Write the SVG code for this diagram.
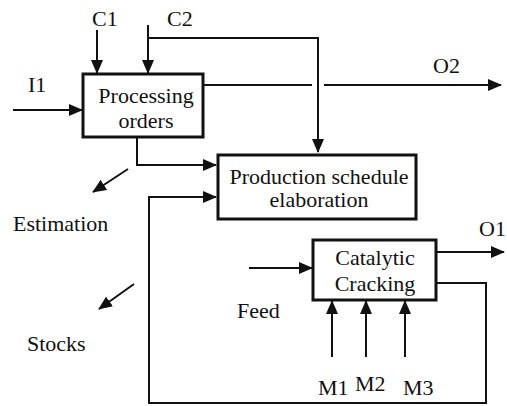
<svg xmlns="http://www.w3.org/2000/svg" width="507" height="406" viewBox="0 0 507 406">
<style>
.box{fill:#fff;stroke:#111;stroke-width:3}
.ln{fill:none;stroke:#111;stroke-width:2}
.t{font-family:"Liberation Serif","Times New Roman",serif;font-size:22px;fill:#111}
.m{text-anchor:middle}
</style>
<defs>
<marker id="ah" markerUnits="userSpaceOnUse" markerWidth="14" markerHeight="12" refX="13" refY="6" orient="auto">
<path d="M0,0 L14,6 L0,12 Z" fill="#111"/>
</marker>
</defs>
<g id="connectors">
<path class="ln" d="M97,30 V73" marker-end="url(#ah)"/>
<path class="ln" d="M148,25 V73" marker-end="url(#ah)"/>
<path class="ln" d="M148,38 H318 V152" marker-end="url(#ah)"/>
<path class="ln" d="M13,110 H82" marker-end="url(#ah)"/>
<path class="ln" d="M204,85 H312"/>
<path class="ln" d="M324,85 H501" marker-end="url(#ah)"/>
<path class="ln" d="M137,138 V165 H216" marker-end="url(#ah)"/>
<path class="ln" d="M128,169 L93,192" marker-end="url(#ah)"/>
<path class="ln" d="M134,284 L99,309" marker-end="url(#ah)"/>
<path class="ln" d="M437,283 H486 V403 H149 V197 H216" marker-end="url(#ah)"/>
<path class="ln" d="M437,252 H504" marker-end="url(#ah)"/>
<path class="ln" d="M249,268 H312" marker-end="url(#ah)"/>
<path class="ln" d="M332,357 V301" marker-end="url(#ah)"/>
<path class="ln" d="M366,357 V301" marker-end="url(#ah)"/>
<path class="ln" d="M405,357 V301" marker-end="url(#ah)"/>
</g>
<g id="processing-orders">
<rect class="box" x="83" y="74" width="120" height="63"/>
<text class="t m" x="146" y="103">Processing</text>
<text class="t m" x="146" y="128">orders</text>
</g>
<g id="production-schedule">
<rect class="box" x="218" y="155" width="198" height="64"/>
<text class="t m" x="319" y="184">Production schedule</text>
<text class="t m" x="319" y="207">elaboration</text>
</g>
<g id="catalytic-cracking">
<rect class="box" x="313" y="240" width="123" height="60"/>
<text class="t m" x="375" y="265">Catalytic</text>
<text class="t m" x="375" y="291">Cracking</text>
</g>
<g id="labels">
<text class="t" x="92" y="26">C1</text>
<text class="t" x="167" y="26">C2</text>
<text class="t" x="28" y="92">I1</text>
<text class="t" x="433" y="73">O2</text>
<text class="t" x="479" y="236">O1</text>
<text class="t" x="13" y="231">Estimation</text>
<text class="t" x="27" y="351">Stocks</text>
<text class="t" x="237" y="318">Feed</text>
<text class="t" x="318" y="395">M1</text>
<text class="t" x="355" y="391">M2</text>
<text class="t" x="403" y="395">M3</text>
</g>
</svg>
